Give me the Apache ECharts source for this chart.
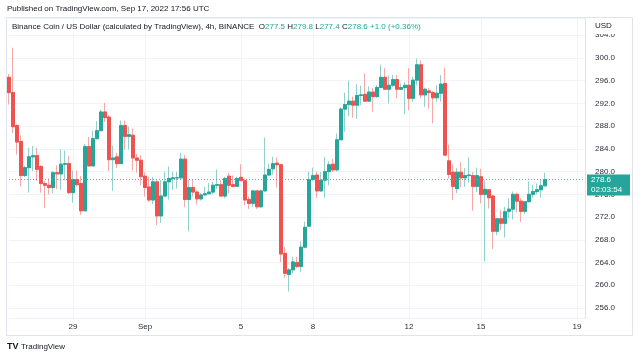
<!DOCTYPE html>
<html><head><meta charset="utf-8">
<script src="https://cdn.jsdelivr.net/npm/echarts@6/dist/echarts.min.js"></script>
<style>html,body{margin:0;padding:0;background:#fff}#c{width:640px;height:359px}</style>
</head><body><div id="c"></div>
<script>
// 4h candles, BNB/USD, from 2022-08-26 08:00 UTC
const opens = [296.6,293.9,288.1,285.3,279.3,280.7,282.6,282.8,280.9,277.9,277.6,277.2,279.8,279.6,281.3,281.4,276.3,278.6,277.9,273.1,
284.4,281.0,285.8,287.2,290.5,289.6,282.1,282.6,281.4,288.1,286.2,286.4,282.4,282.0,279.2,277.3,275.0,278.2,272.2,275.7,
278.2,278.8,278.9,278.9,282.2,275.1,277.2,276.4,275.2,275.9,276.1,276.4,277.6,277.7,275.7,279.2,277.7,277.4,279.0,278.4,
275.1,274.4,276.6,273.8,276.6,279.4,280.5,281.5,281.2,265.6,261.9,262.7,264.0,263.3,266.7,270.4,278.6,279.4,276.6,278.5,
280.0,281.3,280.3,285.6,291.0,291.8,292.4,291.7,293.4,293.6,292.4,294.0,293.2,294.8,296.6,294.5,295.2,296.2,294.5,294.8,
295.2,292.9,296.1,298.8,293.5,294.2,293.9,293.0,293.8,295.5,281.9,279.9,277.0,279.9,278.9,279.3,279.3,277.4,279.1,276.0,
276.8,275.7,269.5,271.7,270.9,273.0,273.4,276.0,274.8,273.0,274.7,276.0,276.5,276.8,277.5];
const closes = [293.9,287.9,285.2,279.3,280.7,282.6,282.8,280.4,277.9,277.6,277.2,279.8,279.6,281.3,281.4,276.3,278.6,277.7,273.1,284.4,
281.0,285.8,287.2,290.5,289.5,282.1,282.4,281.4,288.1,286.2,286.5,282.4,282.0,279.1,277.2,275.0,278.2,272.2,275.7,278.2,
278.8,278.9,278.9,282.2,275.1,277.2,276.4,275.2,275.9,276.1,276.4,277.6,277.7,275.7,278.8,277.6,277.4,278.8,278.4,275.0,
274.4,276.6,273.8,276.6,279.4,280.4,281.4,281.2,265.5,262.1,262.7,264.1,263.3,266.7,270.2,278.6,279.3,276.6,278.5,280.0,
281.2,280.3,285.6,291.0,291.8,292.4,291.7,293.4,293.5,292.4,294.0,293.2,294.8,296.6,294.5,295.2,296.2,294.5,294.8,295.2,
292.9,296.1,298.8,293.5,294.5,293.9,293.0,293.8,295.4,282.9,279.5,277.4,279.9,278.9,279.3,279.4,277.4,279.3,276.0,276.9,
275.4,269.5,271.7,270.9,272.95,273.4,276.0,274.8,273.0,274.7,276.0,276.5,276.8,277.5,278.6];
const lows = [291.8,286.8,283.0,277.4,279.1,276.3,280.1,278.3,276.3,273.6,276.0,276.2,276.9,276.8,278.5,276.0,274.5,277.4,272.4,273.1,
280.9,281.0,285.7,287.2,288.7,280.1,276.6,280.6,281.4,283.9,283.9,280.2,279.8,277.6,275.6,274.7,274.3,270.6,271.0,275.5,
275.1,276.8,277.0,278.7,273.8,269.5,275.6,274.2,274.9,275.7,276.1,276.0,276.9,275.6,275.3,276.2,277.2,277.3,278.4,274.1,
273.4,273.8,273.4,273.7,276.5,279.3,279.5,277.2,264.1,261.3,258.9,262.1,263.0,262.3,266.5,270.3,278.3,275.4,276.5,275.4,
277.6,279.9,280.0,285.6,287.0,289.8,289.5,289.3,291.7,292.3,292.3,290.6,293.0,294.7,294.4,292.0,294.9,292.9,294.4,290.1,
290.8,292.3,295.2,292.9,291.4,291.1,288.5,292.3,292.3,282.9,278.8,275.0,276.2,277.2,277.3,278.1,273.1,276.4,274.4,264.2,
273.5,266.4,268.8,269.7,268.4,271.8,271.6,272.8,271.1,272.5,274.7,275.4,276.0,275.4,277.4];
const highs = [297.2,301.8,288.3,286.4,281.0,284.2,284.5,284.2,281.1,278.3,278.8,280.1,281.1,283.9,283.7,282.8,280.2,280.2,279.2,284.9,
286.1,287.2,288.9,290.9,292.1,289.9,284.6,283.3,289.0,289.0,287.9,287.6,283.1,282.9,279.9,279.1,279.1,278.5,278.5,280.0,
280.9,280.0,280.0,283.3,282.9,278.5,278.5,276.7,276.2,277.3,278.0,278.2,280.4,278.5,279.1,279.8,279.3,279.1,281.3,278.8,
275.6,276.8,276.8,276.8,286.0,281.4,282.6,282.5,281.3,266.7,263.0,265.0,265.0,267.7,271.2,280.0,280.7,280.0,279.9,282.6,
281.8,282.2,286.7,291.3,293.9,296.0,293.2,295.4,295.1,297.3,295.0,294.7,295.2,298.8,298.2,296.9,297.0,297.0,295.5,295.8,
298.2,296.7,299.9,299.6,294.8,294.7,294.2,295.2,297.0,298.3,284.7,281.3,280.6,281.7,280.6,282.5,279.9,280.7,280.5,278.5,
276.9,275.9,271.8,273.2,273.8,275.3,276.5,276.3,275.3,274.8,278.3,277.7,277.9,278.5,279.8];
const tickDates = ['2022-08-29 00:00','2022-09-01 00:00','2022-09-05 00:00','2022-09-08 00:00','2022-09-12 00:00','2022-09-15 00:00','2022-09-19 00:00'];
const tickTexts = ['29','Sep','5','8','12','15','19'];
const lastPrice = 278.6;
const countdown = '02:03:54';
const priceTicks = [256,260,264,268,272,276,280,284,288,292,296,300,304];

const FONT = '"Liberation Sans", Arial, sans-serif';
const UP = '#26a69a', DOWN = '#ef5350';
const UP_W = '#93d2cc', DOWN_W = '#f6a9a7';

// time categories every 4 hours (axis slots, incl. empty right margin)
const pad = n => String(n).padStart(2, '0');
const categories = [];
const t0 = Date.UTC(2022, 7, 26, 8);
for (let i = 0; i < 145; i++) {
  const d = new Date(t0 + i * 4 * 3600 * 1000);
  categories.push(d.getUTCFullYear() + '-' + pad(d.getUTCMonth() + 1) + '-' + pad(d.getUTCDate()) + ' ' + pad(d.getUTCHours()) + ':00');
}
const tickMap = {};
tickDates.forEach((d, k) => tickMap[d] = tickTexts[k]);
const isTick = (i) => tickMap[categories[i]] !== undefined;

const full = opens.map((o, i) => [o, closes[i], lows[i], highs[i]]);
const bodies = opens.map((o, i) => [o, closes[i], Math.min(o, closes[i]), Math.max(o, closes[i])]);

const chart = echarts.init(document.getElementById('c'), null, {renderer: 'canvas'});
const option = {
  animation: false,
  backgroundColor: '#ffffff',
  textStyle: {fontFamily: FONT},
  grid: {left: 9, right: 55, top: 18, bottom: 41},
  xAxis: {
    type: 'category', data: categories, boundaryGap: false,
    axisLine: {show: true, lineStyle: {color: '#eef0f5'}},
    axisTick: {show: false},
    axisLabel: {interval: (i) => isTick(i), formatter: (v) => tickMap[v] || '', fontSize: 8, color: '#2a2e39', margin: 5, fontFamily: FONT},
    splitLine: {show: true, interval: (i) => isTick(i), lineStyle: {color: '#f0f3fa', width: 1}}
  },
  yAxis: {
    type: 'value', position: 'right', scale: true,
    min: 254.23, max: 307.04, minInterval: 4, maxInterval: 4, splitNumber: 13,
    axisLine: {show: true, lineStyle: {color: '#e0e3eb'}},
    axisTick: {show: false},
    axisLabel: {
      fontSize: 8, color: '#2a2e39', margin: 10, fontFamily: FONT,
      formatter: (v) => priceTicks.some(p => Math.abs(p - v) < 1e-6) ? v.toFixed(1) : ''
    },
    splitLine: {show: true, lineStyle: {color: '#f0f3fa', width: 1}}
  },
  series: [
    {
      type: 'candlestick', name: 'wicks', data: full, barWidth: 3,
      itemStyle: {color: UP_W, color0: DOWN_W, borderColor: UP_W, borderColor0: DOWN_W, borderWidth: 1},
      emphasis: {disabled: true}, silent: true
    },
    {
      type: 'candlestick', name: 'BNBUSD', data: bodies, barWidth: 3,
      itemStyle: {color: UP, color0: DOWN, borderColor: UP, borderColor0: DOWN, borderWidth: 1},
      emphasis: {disabled: true}, silent: true,
      markLine: {
        silent: true, symbol: ['none', 'none'], animation: false,
        label: {show: false},
        lineStyle: {color: '#3fb0a5', type: [1, 2], width: 1, opacity: 0.9},
        data: [{yAxis: lastPrice}]
      }
    }
  ]
};
chart.setOption(option);

const py = chart.convertToPixel({yAxisIndex: 0}, lastPrice);
chart.setOption({
  graphic: [
    {type: 'rect', shape: {x: 6.5, y: 17.5, width: 626, height: 318}, style: {fill: 'none', stroke: '#e0e3eb', lineWidth: 1}, z: 50, silent: true},
    {type: 'rect', shape: {x: 587, y: 18.5, width: 45, height: 15.5}, style: {fill: '#ffffff'}, z: 60, silent: true},
    {type: 'text', x: 595, y: 26, style: {text: 'USD', font: '8px ' + FONT, fill: '#131722', textVerticalAlign: 'middle'}, z: 61},
    {type: 'text', x: 7, y: 9, style: {text: 'Published on TradingView.com, Sep 17, 2022 17:56 UTC', font: '8px ' + FONT, fill: '#131722', textVerticalAlign: 'middle'}, z: 61},
    {type: 'text', x: 12, y: 27, z: 61, style: {
      text: 'Binance Coin / US Dollar (calculated by TradingView), 4h, BINANCE  {k|O}{v|277.5} {k|H}{v|279.8} {k|L}{v|277.4} {k|C}{v|278.6} {v|+1.0 (+0.36%)}',
      font: '8px ' + FONT, fill: '#131722', textVerticalAlign: 'middle',
      rich: {k: {fill: '#131722', font: '8px ' + FONT}, v: {fill: UP, font: '8px ' + FONT}}
    }},
    {type: 'rect', shape: {x: 587, y: py - 5, width: 43, height: 21}, style: {fill: UP}, z: 70, silent: true},
    {type: 'text', x: 591, y: py, style: {text: lastPrice.toFixed(1), font: '8px ' + FONT, fill: '#ffffff', textVerticalAlign: 'middle'}, z: 71},
    {type: 'text', x: 591, y: py + 10, style: {text: countdown, font: '8px ' + FONT, fill: '#ffffff', textVerticalAlign: 'middle'}, z: 71},
    {type: 'text', x: 7, y: 347, style: {text: 'TV', font: 'bold 9px ' + FONT, fill: '#131722', textVerticalAlign: 'middle'}, z: 61},
    {type: 'text', x: 21, y: 347, style: {text: 'TradingView', font: '8px ' + FONT, fill: '#131722', textVerticalAlign: 'middle'}, z: 61}
  ]
});
</script>
</body></html>
